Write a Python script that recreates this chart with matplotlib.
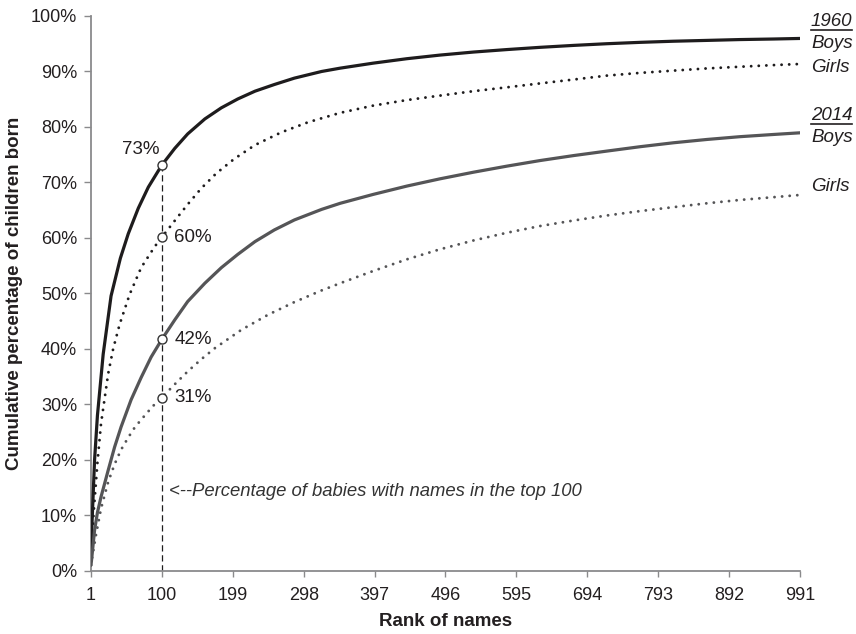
import matplotlib
matplotlib.use("Agg")
import matplotlib.pyplot as plt
from matplotlib.lines import Line2D
from matplotlib.ticker import FuncFormatter

plt.rcParams['font.family'] = ['Liberation Sans', 'DejaVu Sans']

# ---- data ----
boys1960_rank = [1, 3, 6, 10, 18, 29, 42, 53, 67, 81, 100, 118, 136, 160, 183, 206, 230, 257, 285, 323,
                 349, 395, 442, 488, 535, 582, 628, 675, 721, 768, 814, 861, 907, 954, 991]
boys1960_pct = [3.8, 10.5, 20, 28, 39, 49.5, 56.3, 60.7, 65.3, 69.1, 73.1, 76.1, 78.7, 81.4, 83.4, 85.0, 86.4, 87.6, 88.75, 89.95,
                90.55, 91.45, 92.25, 92.9, 93.45, 93.9, 94.3, 94.65, 94.95, 95.2, 95.4, 95.55, 95.7, 95.8, 95.9]

girls1960_rank = [1, 5, 10, 15, 25, 32, 41, 55, 71, 90, 100, 120, 136, 155, 176, 201, 230, 267, 304, 349,
                  395, 442, 488, 535, 582, 628, 675, 721, 768, 814, 861, 907, 954, 991]
girls1960_pct = [3, 11, 19.5, 26.5, 35.5, 40, 44.4, 49.8, 54.6, 58.4, 60.1, 63.4, 66, 68.9, 71.6, 74.2, 76.7, 79.0, 80.8, 82.5,
                 83.8, 84.8, 85.6, 86.4, 87.1, 87.8, 88.5, 89.2, 89.7, 90.1, 90.5, 90.8, 91.1, 91.3]

boys2014_rank = [1, 2, 6, 10, 15, 25, 34, 43, 57, 71, 85, 100, 118, 136, 160, 183, 206, 230, 257, 285, 323,
                 349, 395, 442, 488, 535, 582, 628, 675, 721, 768, 814, 861, 907, 954, 991]
boys2014_pct = [1, 2.2, 7.3, 10.5, 13.3, 18.1, 22.3, 25.9, 30.8, 34.8, 38.5, 41.7, 45.2, 48.5, 51.8, 54.6, 57.0, 59.3, 61.4, 63.2, 65.1,
                66.2, 67.8, 69.3, 70.6, 71.8, 72.9, 73.9, 74.8, 75.6, 76.4, 77.1, 77.7, 78.2, 78.6, 78.9]

girls2014_rank = [1, 2, 8, 15, 25, 34, 43, 53, 62, 71, 81, 90, 100, 118, 136, 155, 174, 211, 248, 285, 323,
                  349, 395, 442, 488, 535, 582, 628, 675, 721, 768, 814, 861, 907, 954, 991]
girls2014_pct = [1, 1.9, 6.5, 11.2, 16, 19.2, 21.8, 24.0, 25.8, 27.2, 28.7, 30.0, 31.2, 33.6, 35.9, 38.1, 40.1, 43.4, 46.1, 48.4, 50.5,
                 51.8, 54.0, 56.1, 57.9, 59.5, 60.9, 62.1, 63.1, 64.0, 64.8, 65.5, 66.2, 66.8, 67.3, 67.7]

top_rank = 100
top100_pct = [73.1, 60.1, 41.7, 31.2]      # 1960 boys, 1960 girls, 2014 boys, 2014 girls
top100_labels = ['73%', '60%', '42%', '31%']

x_ticks = [1, 100, 199, 298, 397, 496, 595, 694, 793, 892, 991]
y_ticks = [0, 10, 20, 30, 40, 50, 60, 70, 80, 90, 100]

# ---- styling ----
BLACK = '#1e1c1d'
GRAY = '#555557'
TEXT = '#231f20'
SPINE = '#8a8a8c'

W, H = 856, 634
fig = plt.figure(figsize=(W / 100, H / 100), dpi=100)
ax = fig.add_axes([91 / W, 1 - 570.7 / H, (800 - 91) / W, (570.7 - 15.7) / H])

dots = (0, (0.01, 2.6))
ax.plot(boys1960_rank, boys1960_pct, color=BLACK, lw=2.3, solid_capstyle='round', solid_joinstyle='round', zorder=3)
ax.plot(girls1960_rank, girls1960_pct, color=BLACK, lw=2.1, linestyle=dots, dash_capstyle='round', zorder=3)
ax.plot(boys2014_rank, boys2014_pct, color=GRAY, lw=2.3, solid_capstyle='round', solid_joinstyle='round', zorder=3)
ax.plot(girls2014_rank, girls2014_pct, color=GRAY, lw=2.1, linestyle=dots, dash_capstyle='round', zorder=3)

# dashed marker line at rank 100
ax.plot([top_rank, top_rank], [0, top100_pct[0]], color=BLACK, lw=0.9, linestyle=(0, (5, 3)), zorder=2)
ax.plot([top_rank] * 4, top100_pct, linestyle='none', marker='o', markersize=6.5,
        markerfacecolor='white', markeredgecolor='#333333', markeredgewidth=1.0, zorder=5)

# labels of the markers
ax.annotate(top100_labels[0], (top_rank, top100_pct[0]), xytext=(-2, 5), textcoords='offset points',
            ha='right', va='bottom', fontsize=13.5, color=TEXT)
for v, lab in zip(top100_pct[1:], top100_labels[1:]):
    ax.annotate(lab, (top_rank, v), xytext=(9, 0), textcoords='offset points',
                ha='left', va='center', fontsize=13.5, color=TEXT)

ax.text(110, 14.3, '<--Percentage of babies with names in the top 100', fontsize=13.3,
        style='italic', color='#333333', ha='left', va='center')

ax.set_xlim(1, 991)
ax.set_ylim(0, 100)
ax.set_xticks(x_ticks)
ax.set_xticklabels([str(t) for t in x_ticks])
ax.set_yticks(y_ticks)
ax.yaxis.set_major_formatter(FuncFormatter(lambda v, p: f'{v:.0f}%'))

for s in ['top', 'right']:
    ax.spines[s].set_visible(False)
for s in ['left', 'bottom']:
    ax.spines[s].set_color(SPINE)
    ax.spines[s].set_linewidth(1.3)
ax.tick_params(axis='both', colors=SPINE, labelcolor=TEXT, labelsize=13, width=1.0)
ax.tick_params(axis='y', length=5, pad=5)
ax.tick_params(axis='x', length=4, pad=8)

ax.set_xlabel('Rank of names', fontsize=13.5, fontweight='bold', color=TEXT, labelpad=6)
ax.set_ylabel('Cumulative percentage of children born', fontsize=13.5, fontweight='bold', color=TEXT, labelpad=6)

# right-side series labels
right_labels = [('1960', 22, True), ('Boys', 43, False), ('Girls', 68, False),
                ('2014', 116, True), ('Boys', 137, False), ('Girls', 187, False)]
texts = []
for txt, ypx, ul in right_labels:
    t = fig.text(811 / W, 1 - ypx / H, txt, fontsize=13.5, style='italic', color=TEXT,
                 ha='left', va='center')
    texts.append((t, ul))

fig.canvas.draw()
inv = fig.transFigure.inverted()
for t, ul in texts:
    if ul:
        bb = t.get_window_extent()
        (x0, y0) = inv.transform((bb.x0, bb.y0 + 1))
        (x1, _) = inv.transform((bb.x1, bb.y0 + 1))
        fig.add_artist(Line2D([x0, x1], [y0, y0], transform=fig.transFigure, color=TEXT, lw=1.2))

fig.savefig('out.png', dpi=100)
